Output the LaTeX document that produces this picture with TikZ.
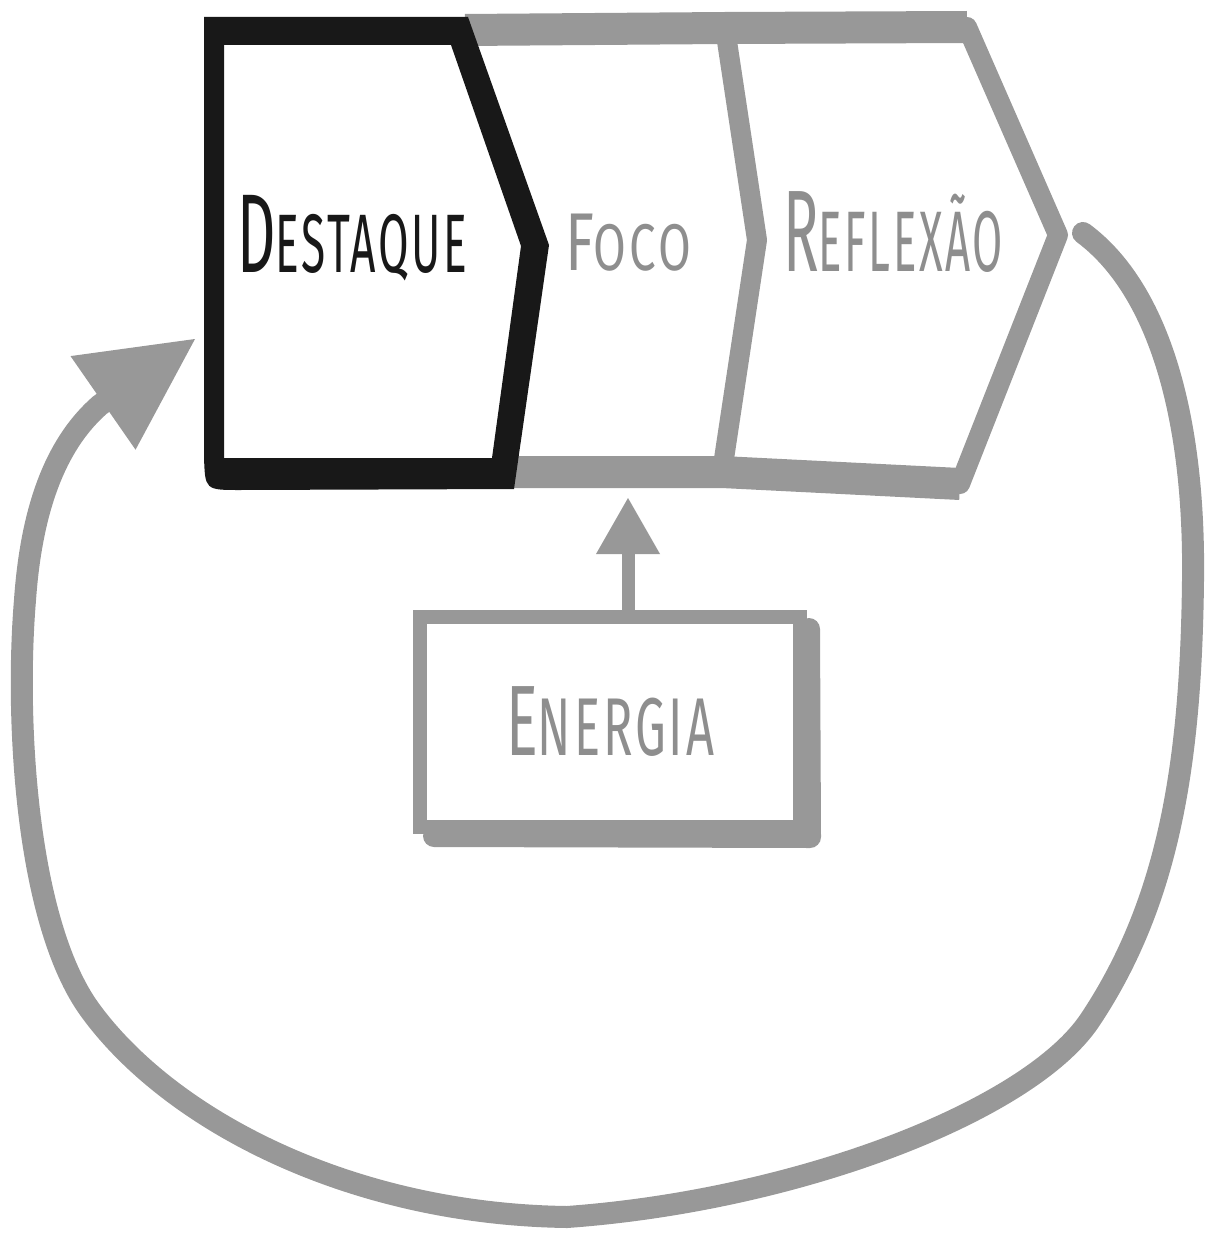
\documentclass[tikz,border=0pt]{standalone}
\usepackage{fontspec}
\setmainfont{Fira Sans}
\usetikzlibrary{calc,arrows.meta}

\definecolor{ink}{RGB}{24,24,24}
\definecolor{marker}{RGB}{152,152,152}
\definecolor{lettering}{RGB}{142,142,142}

% hand-lettered word: tall first capital, smaller capitals after it,
% squeezed to a given width
\newcommand{\handword}[5]{%
  \resizebox{#5}{\height}{{\fontsize{#3}{#3}\selectfont #1}{\fontsize{#4}{#4}\selectfont\addfontfeature{LetterSpace=6} #2}}}

\begin{document}
\begin{tikzpicture}[x=1pt,y=-1pt,
  graypen/.style={draw=marker,line width=20pt,line join=round,line cap=round},
  band/.style={draw=marker,line width=32pt,line join=round},
  word/.style={inner sep=0pt,anchor=center},
  ]
\useasboundingbox (0,0) rectangle (1207,1236);

% corners of the two grey chevrons
\coordinate (d2) at (465,30);
\coordinate (d4) at (505,472);
\coordinate (f2) at (725,28);
\coordinate (f3) at (757,240);
\coordinate (f4) at (722,472);
\coordinate (r2) at (967,27);
\coordinate (r3) at (1058,235);
\coordinate (r4) at (960,484);

% grey chevrons: Foco and Reflexao
\draw[band] (d2) -- (f2) -- (r2);
\draw[band] (d4) -- (f4) -- (r4);
\draw[graypen] (f2) -- (f3) -- (f4);
\draw[graypen] (r2) -- (r3) -- (r4);

% black chevron: Destaque, as a ring between its outer and inner outline
\fill[ink,even odd rule]
  (204,17) -- (468,17) -- (549,245) -- (514,489) -- (240,490)
  .. controls (205,490) .. (204,456) -- cycle
  (224,45) -- (451,45) -- (521,246) -- (492,458) -- (224,458) -- cycle;

% labels of the chevrons
\node[word] (destaque) at (352,238)
  {\color{ink}\handword{D}{ESTAQUE}{112pt}{83pt}{230pt}};
\node[word] (foco) at (628,243)
  {\color{lettering}\handword{F}{OCO}{82pt}{66pt}{126pt}};
\node[word] (reflexao) at (893,232)
  {\color{lettering}\handword{R}{EFLEXÃO}{116pt}{86pt}{220pt}};

% Energia box with its heavier lower and right edges
\node[draw=marker,line width=14pt,outer sep=0pt,inner sep=0pt,
      minimum width=380pt,minimum height=210pt] (energia) at (610,722)
  {\color{lettering}\handword{E}{NERGIA}{100pt}{82pt}{208pt}};
\draw[marker,line width=22pt,line join=round,line cap=round]
  ($(energia.south west)+(14,9)$) -- ($(energia.south east)+(10,10)$)
  -- ($(energia.north east)+(9,12)$);

% Energia feeds the chevrons
\coordinate (energytip) at (628,498);
\draw[marker,line width=13pt,
      -{Triangle[length=56pt,width=64pt,line width=0pt]}]
  (energia.north -| energytip) -- (energytip);

% loop from Reflexao back to Destaque
\coordinate (loopstart) at (1083,233);
\coordinate (loopend) at (195,339);
\draw[marker,line width=22pt,line cap=round,
      -{Triangle[length=112pt,width=114pt,line width=0pt]}]
  (loopstart) .. controls (1160,290) and (1195,420) .. (1193,580)
  .. controls (1191,760) and (1170,900) .. (1090,1020)
  .. controls (1030,1110) and (800,1200) .. (567,1217)
  .. controls (350,1214) and (170,1120) .. (90,1010)
  .. controls (26,922) and (15,720) .. (25,600)
  .. controls (32,500) and (60,440) .. (100,405)
  -- (loopend);
\end{tikzpicture}
\end{document}
